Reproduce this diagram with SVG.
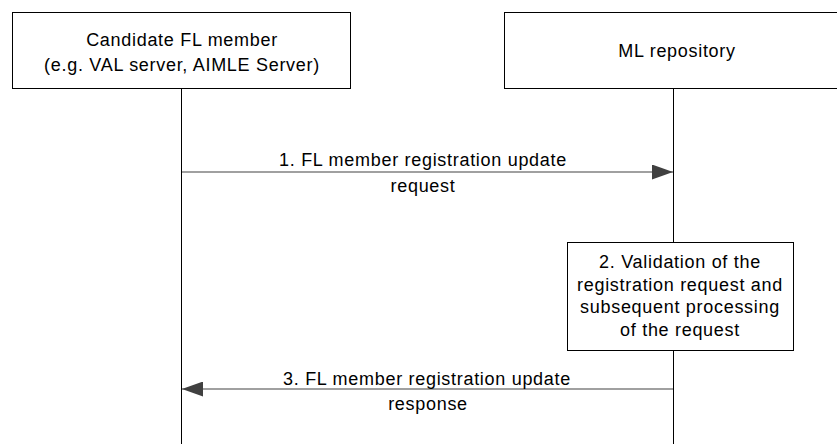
<svg xmlns="http://www.w3.org/2000/svg" width="837" height="444" viewBox="0 0 837 444">
<defs>
<style>
text{font-family:"Liberation Sans",Arial,sans-serif;font-size:18px;fill:#000;text-anchor:middle;letter-spacing:0.7px}
.box{fill:#fff;stroke:#000;stroke-width:1}
.life{stroke:#000;stroke-width:1}
.msg{stroke:#808080;stroke-width:1.5;fill:none}
</style>
<marker id="ah" markerWidth="21" markerHeight="15" refX="21" refY="7.5" orient="auto" markerUnits="userSpaceOnUse">
<path d="M0,0 L21,7.5 L0,15 Z" fill="#404040"/>
</marker>
</defs>
<g id="lifelines">
<line class="life" x1="181.5" y1="88" x2="181.5" y2="444"/>
<line class="life" x1="673.5" y1="88" x2="673.5" y2="242"/>
<line class="life" x1="673.5" y1="350" x2="673.5" y2="444"/>
</g>
<g id="candidate">
<rect class="box" x="12.5" y="12.5" width="338" height="76"/>
<text x="182" y="46">Candidate FL member</text>
<text x="182" y="71">(e.g. VAL server, AIMLE Server)</text>
</g>
<g id="repository">
<rect class="box" x="504.5" y="12.5" width="345" height="76"/>
<text x="677" y="57">ML repository</text>
</g>
<g id="validation">
<rect class="box" x="567.5" y="242.5" width="226" height="108"/>
<text x="680" y="268">2. Validation of the</text>
<text x="680" y="291">registration request and</text>
<text x="680" y="313">subsequent processing</text>
<text x="680" y="336">of the request</text>
</g>
<g id="connectors">
<line class="msg" x1="182" y1="172" x2="673" y2="172" marker-end="url(#ah)"/>
<text x="423" y="166">1. FL member registration update</text>
<text x="423" y="192">request</text>
<line class="msg" x1="673" y1="389" x2="182" y2="389" marker-end="url(#ah)"/>
<text x="427" y="385">3. FL member registration update</text>
<text x="428" y="410">response</text>
</g>
</svg>
